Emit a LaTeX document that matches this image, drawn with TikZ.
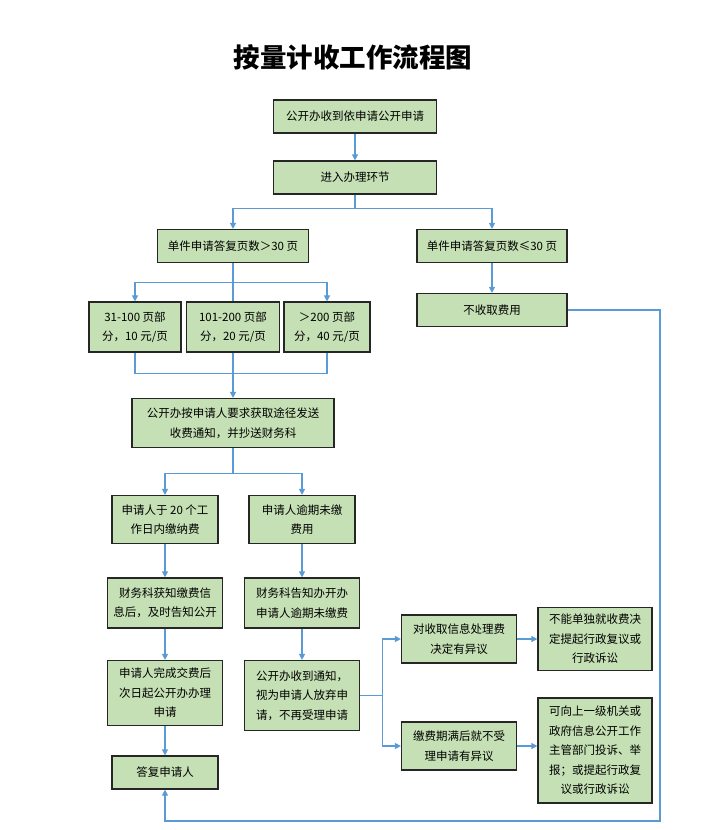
\documentclass[tikz,border=0pt]{standalone}
\usepackage{fontspec}
\setmainfont{Noto Sans CJK SC}
\usepackage{tikz}
\usetikzlibrary{arrows.meta,positioning}

\definecolor{boxgreen}{HTML}{C5E0B4}
\definecolor{boxline}{HTML}{262626}
\definecolor{arrowblue}{HTML}{5B9BD5}

\begin{document}
\begin{tikzpicture}[x=1pt,y=-1pt,on grid,
    box/.style={rectangle,draw=boxline,line width=1.2pt,fill=boxgreen,
      align=center,inner sep=0pt,font=\fontsize{11.5}{19.5}\selectfont},
    plainline/.style={draw=arrowblue,line width=1.1pt},
    arrowline/.style={plainline,-{Triangle[width=6pt,length=6pt]}}]
   \useasboundingbox (0,0) rectangle (706,830);
   \node[font=\bfseries\fontsize{26.5}{30}\selectfont] (title) at (353,57) {按量计收工作流程图};

   \node[box,minimum width=163pt,minimum height=33pt] (recv) at (355,116.5) {公开办收到依申请公开申请};
   \node[box,minimum width=163pt,minimum height=33pt] (enter) [below=61pt of recv] {进入办理环节};
   \node[box,minimum width=151pt,minimum height=33pt] (big) [below left=68.5pt and 122pt of enter] {单件申请答复页数＞30 页};
   \node[box,minimum width=150pt,minimum height=33pt] (small) [below right=68.5pt and 137pt of enter] {单件申请答复页数≤30 页};
   \node[box,minimum width=150pt,minimum height=33pt] (free) [below=64pt of small] {不收取费用};

   \node[box,minimum width=93pt,minimum height=50pt] (midfee) [below=81pt of big] {101-200 页部\\分，20 元/页};
   \node[box,minimum width=92pt,minimum height=50pt] (lowfee) [left=98pt of midfee] {31-100 页部\\分，10 元/页};
   \node[box,minimum width=86pt,minimum height=50pt] (highfee) [right=94pt of midfee] {＞200 页部\\分，40 元/页};

   \node[box,minimum width=202pt,minimum height=49pt] (notice) [below=96pt of midfee] {公开办按申请人要求获取途径发送\\收费通知，并抄送财务科};

   \node[box,minimum width=106pt,minimum height=48pt] (paid) [below left=96.5pt and 68pt of notice] {申请人于 20 个工\\作日内缴纳费};
   \node[box,minimum width=106pt,minimum height=48pt] (unpaid) [right=137pt of paid] {申请人逾期未缴\\费用};
   \node[box,minimum width=115pt,minimum height=50pt] (finpaid) [below=83.5pt of paid] {财务科获知缴费信\\息后，及时告知公开};
   \node[box,minimum width=115pt,minimum height=50pt] (finunpaid) [right=137pt of finpaid] {财务科告知办开办\\申请人逾期未缴费};
   \node[box,minimum width=115pt,minimum height=65pt] (handle) [below=90pt of finpaid] {申请人完成交费后\\次日起公开办办理\\申请};
   \node[box,minimum width=115pt,minimum height=70pt] (abandon) [below=92.5pt of finunpaid] {公开办收到通知，\\视为申请人放弃申\\请，不再受理申请};
   \node[box,minimum width=106pt,minimum height=33pt] (reply) [below=79.5pt of handle] {答复申请人};

   \node[box,minimum width=115pt,minimum height=48pt] (objfee) [above right=56.5pt and 157pt of abandon] {对收取信息处理费\\决定有异议};
   \node[box,minimum width=115pt,minimum height=48pt] (objrej) [below=107pt of objfee] {缴费期满后就不受\\理申请有异议};
   \node[box,minimum width=114pt,minimum height=63pt] (nosuit) [right=136pt of objfee] {不能单独就收费决\\定提起行政复议或\\行政诉讼};
   \node[box,minimum width=114pt,minimum height=105pt] (appeal) [right=136pt of objrej,yshift=-4.5pt] {可向上一级机关或\\政府信息公开工作\\主管部门投诉、举\\报；或提起行政复\\议或行政诉讼};

   % top part
   \draw[arrowline] (recv) -- (enter);
   \path (enter.south) ++(0,14) coordinate (split1);
   \draw[plainline] (enter) -- (split1);
   \draw[arrowline] (split1) -| (big);
   \draw[arrowline] (split1) -| (small);
   \draw[arrowline] (small) -- (free);

   % fee parts
   \path (big.south) ++(0,19.5) coordinate (split2);
   \draw[plainline] (big) -- (midfee);
   \draw[arrowline] (split2) -| (lowfee);
   \draw[arrowline] (split2) -| (highfee);
   \path (midfee.south) ++(0,21) coordinate (join1);
   \draw[plainline] (lowfee) |- (join1) -| (highfee);
   \draw[plainline] (midfee) -- (join1);
   \draw[arrowline] (join1) -- (notice);

   % paid or not
   \path (notice.south) ++(0,25.5) coordinate (split3);
   \draw[plainline] (notice) -- (split3);
   \draw[arrowline] (split3) -| (paid);
   \draw[arrowline] (split3) -| (unpaid);
   \draw[arrowline] (paid) -- (finpaid);
   \draw[arrowline] (finpaid) -- (handle);
   \draw[arrowline] (handle) -- (reply);
   \draw[arrowline] (unpaid) -- (finunpaid);
   \draw[arrowline] (finunpaid) -- (abandon);

   % objections
   \path (abandon.east) ++(22,0) coordinate (split4);
   \draw[plainline] (abandon) -- (split4);
   \draw[arrowline] (split4) |- (objfee);
   \draw[arrowline] (split4) |- (objrej);
   \draw[arrowline] (objfee) -- (objfee -| nosuit.west);
   \draw[arrowline] (objrej) -- (objrej -| appeal.west);

   % back to reply
   \coordinate (back) at (660,821);
   \draw[arrowline] (free) -| (back) -| (reply);
\end{tikzpicture}
\end{document}
